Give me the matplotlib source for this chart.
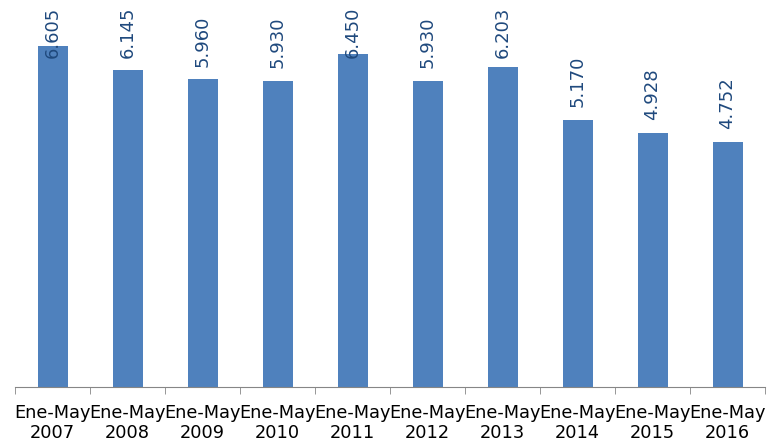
import matplotlib.pyplot as plt
import numpy as np

# datos
periodos = ["Ene-May\n2007", "Ene-May\n2008", "Ene-May\n2009", "Ene-May\n2010",
            "Ene-May\n2011", "Ene-May\n2012", "Ene-May\n2013", "Ene-May\n2014",
            "Ene-May\n2015", "Ene-May\n2016"]
valores = [6.605, 6.145, 5.960, 5.930, 6.450, 5.930, 6.203, 5.170, 4.928, 4.752]
etiquetas = ["6.605", "6.145", "5.960", "5.930", "6.450", "5.930", "6.203",
             "5.170", "4.928", "4.752"]

fig = plt.figure(figsize=(7.67, 4.46), dpi=100)
ax = fig.add_axes([15 / 767, 1 - 387 / 446, 750 / 767, 387 / 446])

x = np.arange(len(valores))
ax.bar(x, valores, width=0.4, color="#4F81BD", zorder=2)

ax.set_xlim(-0.5, len(valores) - 0.5)
ax.set_ylim(0, 7.5)

# etiquetas de valor (la de arriba queda recortada al area del grafico)
for xi, v, t in zip(x, valores, etiquetas):
    yb = min(v + 0.25, 6.38)
    ax.text(xi, yb, t, rotation=90, ha="center", va="bottom",
            fontsize=13, color="#1F497D", family="DejaVu Sans")

for s in ["top", "right", "left"]:
    ax.spines[s].set_visible(False)
ax.spines["bottom"].set_color("#868686")
ax.yaxis.set_visible(False)

ax.set_xticks(x)
ax.set_xticklabels(periodos, fontsize=12.8, linespacing=1.15)
ax.tick_params(axis="x", which="major", length=0, pad=12)
ax.set_xticks(np.arange(-0.5, len(valores)), minor=True)
ax.tick_params(axis="x", which="minor", length=5, color="#868686")

fig.savefig("out.png", dpi=100)
